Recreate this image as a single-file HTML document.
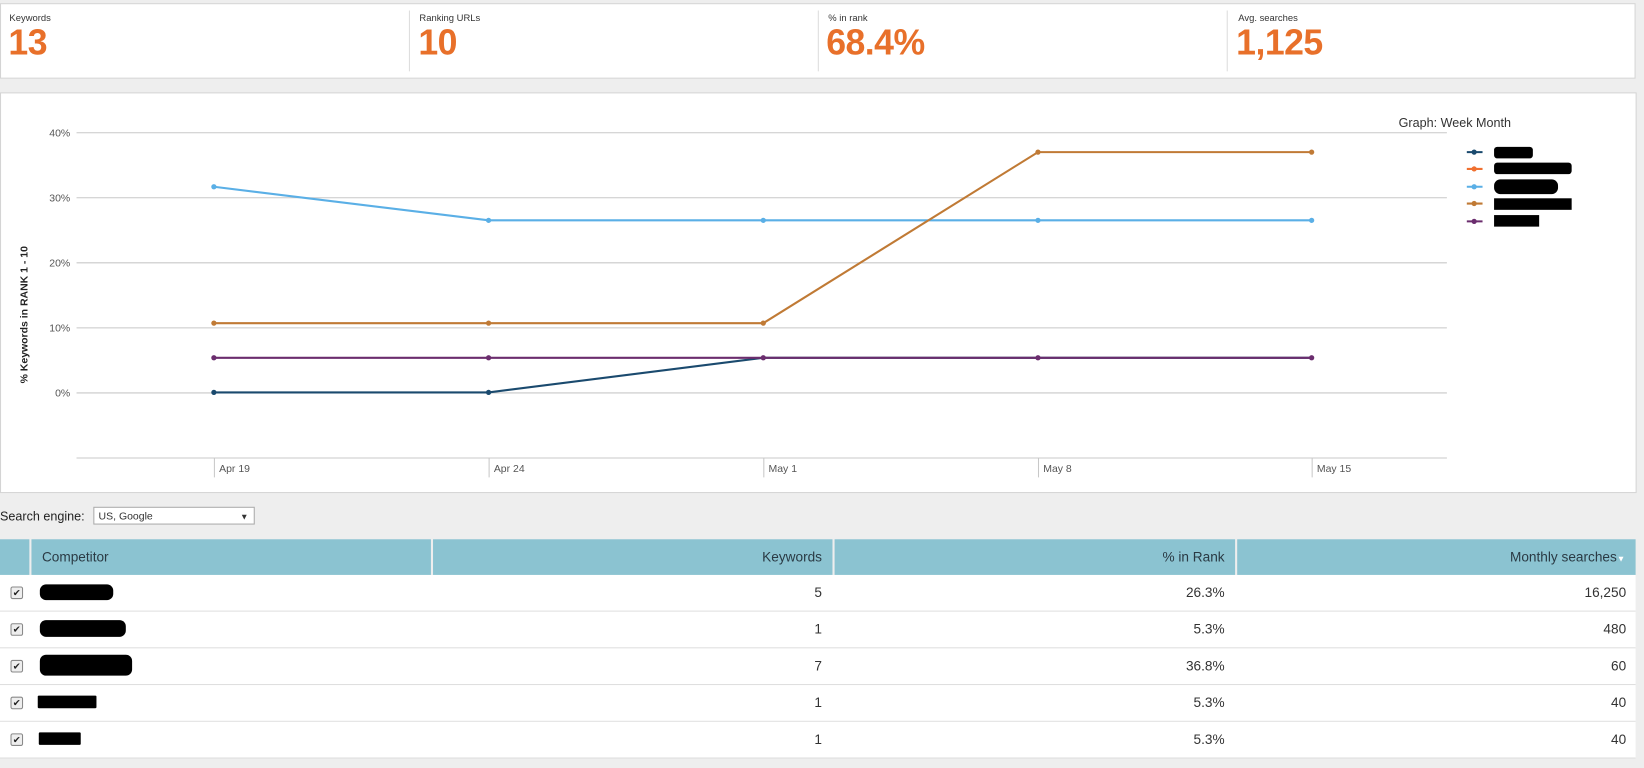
<!DOCTYPE html>
<html><head><meta charset="utf-8"><style>
body{margin:0;width:1644px;height:768px;overflow:hidden;background:#eeeeee;font-family:"Liberation Sans",sans-serif;}
#w{position:absolute;left:0;top:0;width:1568px;height:732px;transform:scale(1.04847,1.04918);transform-origin:0 0;background:#eeeeee;}
.abs{position:absolute}
.lab{font-size:9px;color:#333}
.val{font-size:34px;font-weight:bold;color:#e8702a;letter-spacing:-0.5px}
.hd{position:absolute;top:514px;height:34px;background:#8bc3d1;color:#2a3a44;font-size:13px;line-height:34px;box-sizing:border-box;padding:0 10px}
.row{position:absolute;left:0;width:1560px;height:34px;border-bottom:1px solid #ddd;background:#fff;font-size:13px;color:#333}
.row span{position:absolute;line-height:34px}
.cb{position:absolute;left:10px;top:11px;width:10px;height:10px;border:1px solid #888;border-radius:2px;background:#eee;font-size:9px;line-height:10px;text-align:center;color:#222}
.blob{position:absolute;background:#000;border-radius:6px}
</style></head><body><div id="w">
<div class="abs" style="left:0;top:3px;width:1558px;height:70px;background:#fff;border:1px solid #d4d4d4"></div>
<div class="abs" style="left:390px;top:10px;width:1px;height:58px;background:#ddd"></div>
<div class="abs" style="left:780px;top:10px;width:1px;height:58px;background:#ddd"></div>
<div class="abs" style="left:1170px;top:10px;width:1px;height:58px;background:#ddd"></div>
<div class="abs lab" style="left:9px;top:12px">Keywords</div><div class="abs val" style="left:8px;top:22px">13</div>
<div class="abs lab" style="left:400px;top:12px">Ranking URLs</div><div class="abs val" style="left:399px;top:22px">10</div>
<div class="abs lab" style="left:790px;top:12px">% in rank</div><div class="abs val" style="left:788px;top:22px">68.4%</div>
<div class="abs lab" style="left:1181px;top:12px">Avg. searches</div><div class="abs val" style="left:1179px;top:22px">1,125</div>

<div class="abs" style="left:0;top:88px;width:1559px;height:380px;background:#fff;border:1px solid #d4d4d4"></div>
<svg class="abs" style="left:0;top:0" width="1568" height="480">
<g stroke="#c8c8c8" stroke-width="1">
<line x1="73" x2="1380" y1="126.5" y2="126.5"/><line x1="73" x2="1380" y1="188.5" y2="188.5"/>
<line x1="73" x2="1380" y1="250.5" y2="250.5"/><line x1="73" x2="1380" y1="312.5" y2="312.5"/>
<line x1="73" x2="1380" y1="374.5" y2="374.5"/><line x1="73" x2="1380" y1="436.5" y2="436.5"/>
<line x1="204.5" x2="204.5" y1="436" y2="455"/><line x1="466.5" x2="466.5" y1="436" y2="455"/>
<line x1="728.5" x2="728.5" y1="436" y2="455"/><line x1="990.5" x2="990.5" y1="436" y2="455"/>
<line x1="1251.5" x2="1251.5" y1="436" y2="455"/>
</g>
<g font-size="10" fill="#555" text-anchor="end">
<text x="67" y="130">40%</text><text x="67" y="192">30%</text><text x="67" y="254">20%</text><text x="67" y="316">10%</text><text x="67" y="378">0%</text>
</g>
<g font-size="10" fill="#555">
<text x="209" y="450">Apr 19</text><text x="471" y="450">Apr 24</text><text x="733" y="450">May 1</text><text x="995" y="450">May 8</text><text x="1256" y="450">May 15</text>
</g>
<text transform="translate(26,300) rotate(-90)" font-size="10" font-weight="bold" fill="#222" text-anchor="middle">% Keywords in RANK 1 - 10</text>
<text x="1334" y="121" font-size="12" fill="#333">Graph:  Week Month</text>
<g fill="none" stroke-width="2">
<polyline stroke="#5aafe6" points="204,178 466,210 728,210 990,210 1251,210"/>
<polyline stroke="#c07a35" points="204,308 466,308 728,308 990,145 1251,145"/>
<polyline stroke="#1a4a6e" points="204,374 466,374 728,341 990,341 1251,341"/>
<polyline stroke="#6b2d6e" points="204,341 466,341 728,341 990,341 1251,341"/>
</g>
<g fill="#5aafe6"><circle cx="204" cy="178" r="2.5"/><circle cx="466" cy="210" r="2.5"/><circle cx="728" cy="210" r="2.5"/><circle cx="990" cy="210" r="2.5"/><circle cx="1251" cy="210" r="2.5"/></g>
<g fill="#c07a35"><circle cx="204" cy="308" r="2.5"/><circle cx="466" cy="308" r="2.5"/><circle cx="728" cy="308" r="2.5"/><circle cx="990" cy="145" r="2.5"/><circle cx="1251" cy="145" r="2.5"/></g>
<g fill="#1a4a6e"><circle cx="204" cy="374" r="2.5"/><circle cx="466" cy="374" r="2.5"/></g>
<g fill="#6b2d6e"><circle cx="204" cy="341" r="2.5"/><circle cx="466" cy="341" r="2.5"/><circle cx="728" cy="341" r="2.5"/><circle cx="990" cy="341" r="2.5"/><circle cx="1251" cy="341" r="2.5"/></g>
<g stroke-width="2">
<line x1="1399" x2="1414" y1="145" y2="145" stroke="#1a4a6e"/><circle cx="1406" cy="145" r="2.5" fill="#1a4a6e"/>
<line x1="1399" x2="1414" y1="161" y2="161" stroke="#f07030"/><circle cx="1406" cy="161" r="2.5" fill="#f07030"/>
<line x1="1399" x2="1414" y1="178" y2="178" stroke="#5aafe6"/><circle cx="1406" cy="178" r="2.5" fill="#5aafe6"/>
<line x1="1399" x2="1414" y1="194" y2="194" stroke="#c07a35"/><circle cx="1406" cy="194" r="2.5" fill="#c07a35"/>
<line x1="1399" x2="1414" y1="211" y2="211" stroke="#6b2d6e"/><circle cx="1406" cy="211" r="2.5" fill="#6b2d6e"/>
</g>
<g fill="#000">
<rect x="1425" y="140" width="37" height="11" rx="3"/><rect x="1425" y="155" width="74" height="11" rx="3"/>
<rect x="1425" y="171" width="61" height="14" rx="6"/><rect x="1425" y="189" width="74" height="11"/>
<rect x="1425" y="205" width="43" height="11"/>
</g>
</svg>

<div class="abs" style="left:0;top:485px;font-size:12px;color:#222">Search engine:</div>
<div class="abs" style="left:89px;top:483px;width:154px;height:17px;border:1px solid #aaa;background:#fff;font-size:10px;line-height:17px;color:#333;box-sizing:border-box;padding-left:4px">US, Google<span style="position:absolute;right:5px;font-size:8px">&#9660;</span></div>

<div class="hd" style="left:0;width:28px"></div>
<div class="hd" style="left:30px;width:381px">Competitor</div>
<div class="hd" style="left:413px;width:381px;text-align:right">Keywords</div>
<div class="hd" style="left:796px;width:382px;text-align:right">% in Rank</div>
<div class="hd" style="left:1180px;width:380px;text-align:right">Monthly searches<span style="color:#fff;font-size:8px">&#9660;</span></div>

<div class="row" style="top:548px"><div class="cb">&#10004;</div><div class="blob" style="left:38px;top:9px;width:70px;height:15px"></div><span style="right:776px">5</span><span style="right:392px">26.3%</span><span style="right:9px">16,250</span></div>
<div class="row" style="top:583px"><div class="cb">&#10004;</div><div class="blob" style="left:38px;top:8px;width:82px;height:16px"></div><span style="right:776px">1</span><span style="right:392px">5.3%</span><span style="right:9px">480</span></div>
<div class="row" style="top:618px"><div class="cb">&#10004;</div><div class="blob" style="left:38px;top:6px;width:88px;height:20px"></div><span style="right:776px">7</span><span style="right:392px">36.8%</span><span style="right:9px">60</span></div>
<div class="row" style="top:653px"><div class="cb">&#10004;</div><div class="blob" style="left:36px;top:10px;width:56px;height:12px;border-radius:1px"></div><span style="right:776px">1</span><span style="right:392px">5.3%</span><span style="right:9px">40</span></div>
<div class="row" style="top:688px"><div class="cb">&#10004;</div><div class="blob" style="left:37px;top:10px;width:40px;height:12px;border-radius:1px"></div><span style="right:776px">1</span><span style="right:392px">5.3%</span><span style="right:9px">40</span></div>
</div></body></html>
